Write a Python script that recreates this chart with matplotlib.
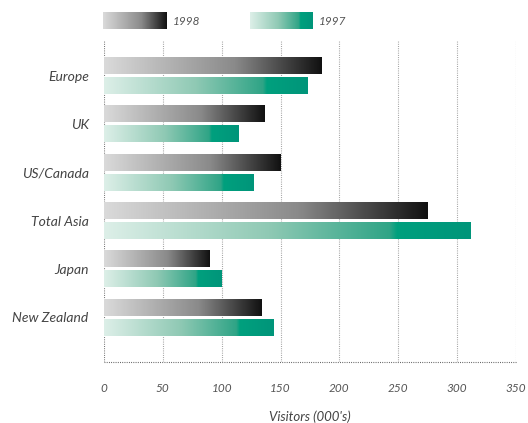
import numpy as np
import matplotlib
matplotlib.use("Agg")
import matplotlib.pyplot as plt
from matplotlib.colors import LinearSegmentedColormap

categories = ["Europe", "UK", "US/Canada", "Total Asia", "Japan", "New Zealand"]
visitors_1998 = [185, 136, 150, 275, 90, 134]
visitors_1997 = [173, 114, 127, 311, 100, 144]
series_labels = ["1998", "1997"]
x_ticks = [0, 50, 100, 150, 200, 250, 300, 350]

FONT = "Lato"
WEIGHT = "normal"
gray_cmap = LinearSegmentedColormap.from_list(
    "g", [(0, "#dadada"), (0.6, "#8a8a8a"), (1, "#111111")])
green_cmap = LinearSegmentedColormap.from_list(
    "t", [(0, "#ddefe8"), (0.45, "#8fc9b4"), (0.78, "#2fa486"), (0.8, "#00a07e"), (1, "#00957a")])

W, H = 528, 423
fig = plt.figure(figsize=(W / 100, H / 100), dpi=100)
ax = fig.add_axes([104 / W, 1 - 362 / H, (516 - 104) / W, (362 - 40) / H])

grad = np.linspace(0, 1, 256).reshape(1, -1)
bar_h = 0.35
off = 0.207
y = np.arange(len(categories))
for i, (v8, v7) in enumerate(zip(visitors_1998, visitors_1997)):
    ax.imshow(grad, cmap=gray_cmap, aspect="auto", interpolation="bilinear",
              extent=[0, v8, y[i] - off + bar_h / 2, y[i] - off - bar_h / 2], zorder=2)
    ax.imshow(grad, cmap=green_cmap, aspect="auto", interpolation="bilinear",
              extent=[0, v7, y[i] + off + bar_h / 2, y[i] + off - bar_h / 2], zorder=2)

ylim = (5 + (362 - 317.3) / 48.3, -(75.5 - 40) / 48.3)
ax.set_xlim(0, 350)
ax.set_ylim(*ylim)
for xt in x_ticks:
    ax.axvline(xt, color="#666666" if xt == 0 else "#999999", linestyle=(0, (0.8, 1.2)),
               linewidth=0.8, zorder=1)
ax.axhline(ylim[0], color="#555555", linestyle=(0, (0.8, 1.2)), linewidth=0.8,
           zorder=1, clip_on=False)
for s in ["top", "right", "left", "bottom"]:
    ax.spines[s].set_visible(False)

ax.set_xticks(x_ticks)
ax.set_xticklabels([str(t) for t in x_ticks], fontfamily=FONT, fontstyle="italic",
                   fontweight=WEIGHT, fontsize=8.5, color="#555555")
ax.tick_params(axis="x", length=0, pad=15)
ax.set_yticks(y)
ax.set_yticklabels(categories, fontfamily=FONT, fontstyle="italic", fontweight=WEIGHT,
                   fontsize=10, color="#444444")
ax.tick_params(axis="y", length=0, pad=11)
ax.set_xlabel("Visitors (000's)", fontfamily=FONT, fontstyle="italic", fontweight=WEIGHT,
              fontsize=9.5, color="#444444", labelpad=12)

# legend swatches
for (x0, x1, cmap, lab) in [(103, 167, gray_cmap, series_labels[0]),
                            (250, 313, green_cmap, series_labels[1])]:
    lax = fig.add_axes([x0 / W, 1 - 29 / H, (x1 - x0) / W, 17 / H])
    lax.imshow(grad, cmap=cmap, aspect="auto", interpolation="bilinear")
    lax.axis("off")
    fig.text((x1 + 6) / W, 1 - 21.5 / H, lab, fontfamily=FONT, fontstyle="italic",
             fontweight=WEIGHT, fontsize=8.5, color="#555555", va="center", ha="left")

fig.savefig("out.png", dpi=100)
